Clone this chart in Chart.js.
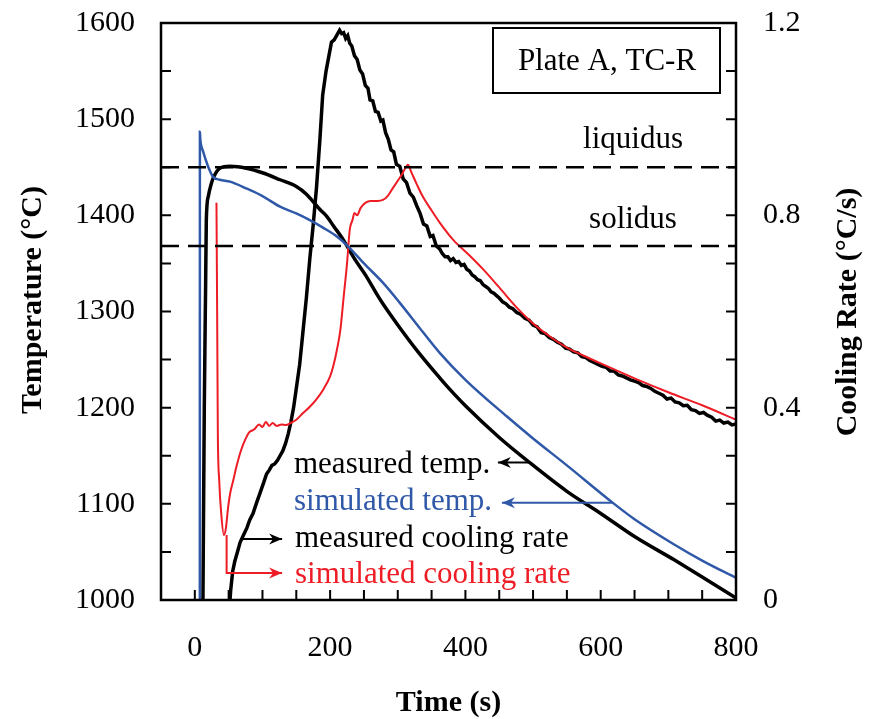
<!DOCTYPE html>
<html>
<head>
<meta charset="utf-8">
<script src="https://cdn.jsdelivr.net/npm/chart.js@4.4.1/dist/chart.umd.min.js"></script>
<style>
  html, body { margin: 0; padding: 0; background: #fff; }
  #wrap { width: 870px; height: 719px; }
</style>
</head>
<body>
<div id="wrap"><canvas id="coolingChart" width="870" height="719"></canvas></div>
<script>
// measured temperature (left axis, degC)
const measTempTime = [12, 14, 16, 17, 20, 24, 28, 37, 52, 76, 101, 126, 150, 165, 175, 185, 195, 205, 220, 235, 254, 269, 278, 300, 330, 362, 377, 400, 450, 493, 550, 600, 650, 708, 750, 800];
const measTempVal  = [1000, 1200, 1330, 1395, 1420, 1432, 1440, 1449, 1451, 1449, 1444, 1437, 1430, 1422, 1414, 1406, 1399, 1389, 1374, 1356, 1336, 1318, 1308, 1286, 1258, 1231, 1219, 1202, 1169, 1144, 1113, 1090, 1066, 1042, 1024, 1002];

// simulated temperature (left axis, degC)
const simTempTime = [7.4, 7.5, 8, 9, 12, 16, 20, 27, 37, 52, 76, 100, 126, 150, 170, 190, 210, 229, 250, 278, 303, 330, 362, 400, 461, 500, 550, 618, 650, 708, 750, 800];
const simTempVal  = [1000, 1487, 1480, 1474, 1467, 1458, 1450, 1440, 1437, 1435, 1428, 1420, 1409, 1402, 1395, 1387, 1378, 1366, 1350, 1330, 1309, 1285, 1257, 1229, 1191, 1168, 1140, 1101, 1084, 1058, 1041, 1023];

// measured cooling rate (right axis, degC/s)
const measRateTime = [51, 53, 56, 59, 63, 67, 72, 77, 81, 86, 92, 97, 102, 106, 110, 114, 118, 122, 126, 130, 134, 138, 142, 146, 150, 155, 160, 165, 170, 175, 180, 185, 189, 194, 198, 202, 206, 210, 214, 217, 220, 223, 226, 229, 232, 236, 240, 244, 248, 252, 256, 259, 263, 267, 271, 275, 278, 282, 286, 290, 294, 298, 303, 308, 313, 318, 323, 328, 333, 338, 343, 348, 352, 357, 362, 366, 370, 374, 378, 382, 386, 390, 394, 398, 402, 406, 410, 414, 418, 422, 426, 430, 434, 438, 442, 446, 450, 455, 460, 465, 470, 476, 482, 488, 494, 500, 506, 512, 518, 524, 530, 536, 542, 548, 554, 560, 566, 572, 578, 584, 590, 596, 602, 608, 614, 620, 626, 632, 638, 644, 650, 656, 662, 668, 674, 680, 686, 692, 698, 704, 710, 716, 722, 728, 734, 740, 746, 752, 758, 764, 770, 776, 782, 788, 794, 800];
const measRateVal  = [-0.02, 0.02, 0.06, 0.08, 0.10, 0.12, 0.135, 0.15, 0.166, 0.18, 0.205, 0.225, 0.245, 0.262, 0.27, 0.28, 0.283, 0.29, 0.30, 0.31, 0.325, 0.345, 0.37, 0.40, 0.44, 0.49, 0.56, 0.63, 0.71, 0.78, 0.86, 0.96, 1.05, 1.10, 1.13, 1.16, 1.165, 1.175, 1.185, 1.178, 1.18, 1.168, 1.174, 1.158, 1.152, 1.132, 1.124, 1.102, 1.094, 1.07, 1.064, 1.04, 1.038, 1.016, 1.014, 0.996, 0.998, 0.972, 0.958, 0.936, 0.932, 0.906, 0.902, 0.876, 0.868, 0.846, 0.838, 0.82, 0.804, 0.782, 0.778, 0.756, 0.758, 0.736, 0.73, 0.72, 0.714, 0.714, 0.706, 0.71, 0.702, 0.704, 0.696, 0.698, 0.688, 0.684, 0.676, 0.672, 0.666, 0.664, 0.656, 0.652, 0.648, 0.641, 0.638, 0.633, 0.628, 0.62, 0.616, 0.609, 0.606, 0.598, 0.594, 0.586, 0.582, 0.572, 0.568, 0.556, 0.554, 0.546, 0.542, 0.536, 0.532, 0.524, 0.522, 0.516, 0.514, 0.506, 0.504, 0.498, 0.494, 0.49, 0.486, 0.484, 0.476, 0.476, 0.468, 0.466, 0.462, 0.458, 0.455, 0.452, 0.446, 0.444, 0.44, 0.434, 0.43, 0.426, 0.418, 0.42, 0.412, 0.41, 0.404, 0.405, 0.396, 0.394, 0.388, 0.39, 0.384, 0.38, 0.372, 0.374, 0.368, 0.37, 0.364, 0.366];

// simulated cooling rate (right axis, degC/s)
const simRateTime = [32, 33, 34, 36, 39, 43, 46, 49, 52, 57, 62, 68, 75, 80, 88, 95, 100, 105, 110, 115, 121, 128, 135, 140, 150, 160, 170, 180, 190, 200, 205, 210, 215, 220, 225, 229, 233, 236, 240, 245, 252, 260, 270, 278, 285, 292, 300, 306, 312, 315, 320, 328, 337, 350, 362, 382, 405, 426, 450, 476, 500, 525, 550, 575, 600, 650, 700, 750, 800];
const simRateVal  = [0.826, 0.6, 0.35, 0.25, 0.18, 0.135, 0.15, 0.19, 0.22, 0.25, 0.28, 0.31, 0.335, 0.348, 0.355, 0.365, 0.36, 0.37, 0.362, 0.368, 0.362, 0.365, 0.364, 0.367, 0.375, 0.389, 0.402, 0.418, 0.438, 0.465, 0.488, 0.52, 0.56, 0.63, 0.70, 0.77, 0.79, 0.805, 0.80, 0.815, 0.826, 0.83, 0.83, 0.832, 0.84, 0.855, 0.872, 0.885, 0.90, 0.905, 0.89, 0.865, 0.839, 0.81, 0.785, 0.749, 0.718, 0.688, 0.65, 0.608, 0.575, 0.548, 0.525, 0.508, 0.492, 0.461, 0.432, 0.405, 0.375];

const liquidusTemp = 1450;
const solidusTemp = 1368;
const timeRange = [-50, 800];
const tempTickLabels = [1000, 1100, 1200, 1300, 1400, 1500, 1600];
const rateTickLabels = [0, 0.4, 0.8, 1.2];
const timeTickLabels = [0, 200, 400, 600, 800];

const toPoints = (xs, ys) => xs.map((x, i) => ({ x: x, y: ys[i] }));

const BLUE = "#2f58a8";
const RED = "#ee1c25";
const SERIF = '"Liberation Serif", "Times New Roman", serif';

const overlay = {
    id: "overlay",
    afterDraw(chart) {
        const { ctx, chartArea: a, scales } = chart;
        const { x, y, y1 } = scales;
        ctx.save();

        // inward tick marks
        ctx.strokeStyle = "#000";
        ctx.lineWidth = 2;
        ctx.beginPath();
        x.ticks.forEach(t => {
            const px = x.getPixelForValue(t.value);
            ctx.moveTo(px, a.bottom);
            ctx.lineTo(px, a.bottom - 10);
        });
        y.ticks.forEach(t => {
            const py = y.getPixelForValue(t.value);
            ctx.moveTo(a.left, py);
            ctx.lineTo(a.left + 10, py);
        });
        y1.ticks.forEach(t => {
            const py = y1.getPixelForValue(t.value);
            ctx.moveTo(a.right, py);
            ctx.lineTo(a.right - 10, py);
        });
        ctx.stroke();

        // plot frame
        ctx.lineWidth = 2.5;
        ctx.strokeRect(a.left, a.top, a.right - a.left, a.bottom - a.top);

        // axis titles
        ctx.fillStyle = "#000";
        ctx.font = "bold 30px " + SERIF;
        ctx.textAlign = "center";
        ctx.textBaseline = "alphabetic";
        ctx.fillText("Time (s)", (a.left + a.right) / 2, 711);

        ctx.textBaseline = "middle";
        ctx.save();
        ctx.translate(33, 300);
        ctx.rotate(-Math.PI / 2);
        ctx.fillText("Temperature (\u00B0C)", 0, 0);
        ctx.restore();
        ctx.save();
        ctx.translate(848, 312);
        ctx.rotate(-Math.PI / 2);
        ctx.fillText("Cooling Rate (\u00B0C/s)", 0, 0);
        ctx.restore();

        // box label
        ctx.lineWidth = 2;
        ctx.strokeRect(493, 28, 227, 65);
        ctx.font = "31px " + SERIF;
        ctx.textBaseline = "alphabetic";
        ctx.fillText("Plate A, TC-R", 607, 70);

        // liquidus / solidus
        ctx.fillText("liquidus", 633, y.getPixelForValue(liquidusTemp) - 19);
        ctx.fillText("solidus", 633, y.getPixelForValue(solidusTemp) - 18);

        // series labels and arrows
        const arrow = (pts, color) => {
            ctx.strokeStyle = color;
            ctx.fillStyle = color;
            ctx.lineWidth = 2;
            ctx.beginPath();
            ctx.moveTo(pts[0][0], pts[0][1]);
            for (let i = 1; i < pts.length; i++) ctx.lineTo(pts[i][0], pts[i][1]);
            ctx.stroke();
            const [x1, y1p] = pts[pts.length - 1];
            const [x0, y0p] = pts[pts.length - 2];
            const ang = Math.atan2(y1p - y0p, x1 - x0);
            ctx.beginPath();
            ctx.moveTo(x1, y1p);
            ctx.lineTo(x1 - 13 * Math.cos(ang) + 5.5 * Math.sin(ang), y1p - 13 * Math.sin(ang) - 5.5 * Math.cos(ang));
            ctx.lineTo(x1 - 9 * Math.cos(ang), y1p - 9 * Math.sin(ang));
            ctx.lineTo(x1 - 13 * Math.cos(ang) - 5.5 * Math.sin(ang), y1p - 13 * Math.sin(ang) + 5.5 * Math.cos(ang));
            ctx.closePath();
            ctx.fill();
        };
        const px = v => x.getPixelForValue(v);
        const pT = v => y.getPixelForValue(v);
        const pR = v => y1.getPixelForValue(v);

        arrow([[px(493), pT(1143)], [px(448), pT(1143)]], "#000");
        arrow([[px(618), pT(1101)], [px(454), pT(1101)]], BLUE);
        arrow([[px(67), pR(0.127)], [px(129), pR(0.127)]], "#000");
        arrow([[px(47), pR(0.135)], [px(47), pR(0.056)], [px(129), pR(0.056)]], RED);

        ctx.textAlign = "left";
        ctx.font = "31px " + SERIF;
        ctx.fillStyle = "#000";
        ctx.fillText("measured temp.", 294, 473);
        ctx.fillStyle = BLUE;
        ctx.fillText("simulated temp.", 294, 510);
        ctx.fillStyle = "#000";
        ctx.fillText("measured cooling rate", 295, 547);
        ctx.fillStyle = RED;
        ctx.fillText("simulated cooling rate", 295, 583);

        ctx.restore();
    }
};

// fixed axis boxes so the plot area lands where the reference has it
const fixVertical = w => s => { s.width = w; s.paddingTop = 0; s.paddingBottom = 0; };

const ctx = document.getElementById("coolingChart").getContext("2d");
const coolingChart = new Chart(ctx, {
    type: "line",
    data: {
        datasets: [
            {
                label: "liquidus",
                data: toPoints(timeRange, [liquidusTemp, liquidusTemp]),
                yAxisID: "y",
                borderColor: "#000",
                borderWidth: 2.5,
                borderDash: [18, 9],
            },
            {
                label: "solidus",
                data: toPoints(timeRange, [solidusTemp, solidusTemp]),
                yAxisID: "y",
                borderColor: "#000",
                borderWidth: 2.5,
                borderDash: [18, 9],
            },
            {
                label: "simulated temp.",
                data: toPoints(simTempTime, simTempVal),
                yAxisID: "y",
                borderColor: BLUE,
                borderWidth: 2.5,
                cubicInterpolationMode: "monotone",
            },
            {
                label: "simulated cooling rate",
                data: toPoints(simRateTime, simRateVal),
                yAxisID: "y1",
                borderColor: RED,
                borderWidth: 2,
                cubicInterpolationMode: "monotone",
            },
            {
                label: "measured temp.",
                data: toPoints(measTempTime, measTempVal),
                yAxisID: "y",
                borderColor: "#000",
                borderWidth: 3.5,
                cubicInterpolationMode: "monotone",
            },
            {
                label: "measured cooling rate",
                data: toPoints(measRateTime, measRateVal),
                yAxisID: "y1",
                borderColor: "#000",
                borderWidth: 3.5,
            },
        ],
    },
    options: {
        responsive: false,
        animation: false,
        events: [],
        layout: { padding: { top: 23, left: 0, right: 0, bottom: 0 } },
        elements: { point: { radius: 0 }, line: { tension: 0, fill: false } },
        plugins: {
            legend: { display: false },
            tooltip: { enabled: false },
            title: { display: false },
        },
        scales: {
            x: {
                type: "linear",
                min: timeRange[0],
                max: timeRange[1],
                afterFit: s => { s.height = 119; s.paddingLeft = 0; s.paddingRight = 0; },
                border: { display: false },
                grid: { drawOnChartArea: false, drawTicks: false },
                ticks: {
                    stepSize: 50,
                    autoSkip: false,
                    maxRotation: 0,
                    padding: 30,
                    color: "#000",
                    font: { family: SERIF, size: 30 },
                    callback: v => (timeTickLabels.includes(v) ? String(v) : ""),
                },
            },
            y: {
                position: "left",
                min: 1000,
                max: 1600,
                afterFit: fixVertical(161),
                border: { display: false },
                grid: { drawOnChartArea: false, drawTicks: false },
                ticks: {
                    stepSize: 50,
                    autoSkip: false,
                    padding: 26,
                    color: "#000",
                    font: { family: SERIF, size: 30 },
                    callback: v => (tempTickLabels.includes(v) ? String(v) : ""),
                },
            },
            y1: {
                position: "right",
                min: 0,
                max: 1.2,
                afterFit: fixVertical(134),
                border: { display: false },
                grid: { drawOnChartArea: false, drawTicks: false },
                ticks: {
                    stepSize: 0.1,
                    autoSkip: false,
                    padding: 27,
                    color: "#000",
                    font: { family: SERIF, size: 30 },
                    callback: v => {
                        const r = Math.round(v * 10) / 10;
                        return rateTickLabels.includes(r) ? String(r) : "";
                    },
                },
            },
        },
    },
    plugins: [overlay],
});
</script>
</body>
</html>
